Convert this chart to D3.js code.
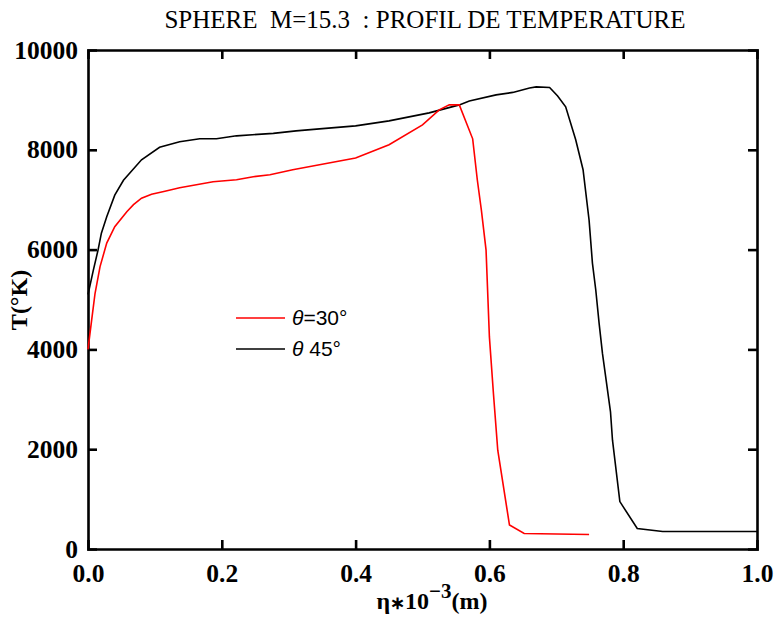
<!DOCTYPE html>
<html>
<head>
<meta charset="utf-8">
<script src="https://cdn.jsdelivr.net/npm/d3@7"></script>
<style>
  body { margin: 0; background: #fff; }
  svg { display: block; }
</style>
</head>
<body>
<div class="chart"></div>
<script>
// theta = 30 deg (red)
let eta30 = [0, 0.0055, 0.0105, 0.018, 0.028, 0.040, 0.058, 0.068, 0.080, 0.095, 0.115, 0.137, 0.187, 0.222, 0.247, 0.272, 0.306, 0.346, 0.40, 0.45, 0.50, 0.525, 0.54, 0.555, 0.575, 0.582, 0.588, 0.595, 0.60, 0.606, 0.6125, 0.63, 0.652, 0.749];
let temp30 = [4000, 4590, 5120, 5660, 6130, 6460, 6760, 6900, 7030, 7110, 7170, 7240, 7360, 7400, 7460, 7500, 7600, 7700, 7835, 8100, 8500, 8800, 8900, 8900, 8220, 7390, 6790, 5990, 4250, 3120, 1980, 480, 310, 290];

// theta = 45 deg (black)
let eta45 = [0, 0.008, 0.015, 0.020, 0.028, 0.040, 0.053, 0.080, 0.107, 0.137, 0.167, 0.192, 0.222, 0.277, 0.311, 0.346, 0.40, 0.45, 0.51, 0.555, 0.57, 0.61, 0.635, 0.66, 0.67, 0.69, 0.702, 0.714, 0.729, 0.740, 0.749, 0.754, 0.759, 0.764, 0.769, 0.781, 0.784, 0.795, 0.821, 0.859, 1.0];
let temp45 = [5100, 5590, 5990, 6330, 6660, 7090, 7390, 7800, 8050, 8160, 8220, 8220, 8280, 8330, 8380, 8420, 8480, 8580, 8740, 8900, 8980, 9100, 9150, 9240, 9260, 9250, 9080, 8860, 8200, 7600, 6590, 5730, 5190, 4520, 3920, 2750, 2180, 950, 410, 350, 350];

let xTicks = [0, 0.2, 0.4, 0.6, 0.8, 1.0];
let yTicks = [0, 2000, 4000, 6000, 8000, 10000];

let legendLabels = ["=30\u00B0", " 45\u00B0"];
let legendColors = ["#ff0000", "#000000"];

let W = 775, H = 617;
let mLeft = 88, mRight = 757, mTop = 50, mBottom = 549;

let svg = d3.select(".chart").append("svg")
    .attr("width", W)
    .attr("height", H);

let x = d3.scaleLinear().domain([0, 1]).range([mLeft, mRight]);
let y = d3.scaleLinear().domain([0, 10000]).range([mBottom, mTop]);

let serif = "'Liberation Serif', 'Times New Roman', serif";

// axes, ticks pointing inward
let gBottom = svg.append("g").attr("transform", "translate(0," + mBottom + ")")
    .call(d3.axisBottom(x).tickValues(xTicks).tickSize(-9).tickPadding(15)
        .tickFormat(d3.format(".1f")));
let gTop = svg.append("g").attr("transform", "translate(0," + mTop + ")")
    .call(d3.axisTop(x).tickValues(xTicks).tickSize(-9).tickFormat(""));
let gLeft = svg.append("g").attr("transform", "translate(" + mLeft + ",0)")
    .call(d3.axisLeft(y).tickValues(yTicks).tickSize(-9).tickPadding(10)
        .tickFormat(d3.format("d")));
let gRight = svg.append("g").attr("transform", "translate(" + mRight + ",0)")
    .call(d3.axisRight(y).tickValues(yTicks).tickSize(-9).tickFormat(""));

[gBottom, gTop, gLeft, gRight].forEach(function (g) {
    g.select(".domain").attr("stroke", "#000").attr("stroke-width", 2.6);
    g.selectAll(".tick line").attr("stroke", "#000").attr("stroke-width", 2.6);
    g.selectAll(".tick text")
        .attr("font-family", serif)
        .attr("font-weight", "bold")
        .attr("font-size", 25.5)
        .attr("fill", "#000");
});
// hide end ticks that sit on the frame
[gBottom, gTop].forEach(function (g) {
    g.selectAll(".tick line").filter(function (d) { return d === 0 || d === 1; }).remove();
});
[gLeft, gRight].forEach(function (g) {
    g.selectAll(".tick line").filter(function (d) { return d === 0 || d === 10000; }).remove();
});

let line = d3.line()
    .x(function (d) { return x(d[0]); })
    .y(function (d) { return y(d[1]); });

svg.append("path")
    .datum(eta45.map(function (e, i) { return [e, temp45[i]]; }))
    .attr("fill", "none")
    .attr("stroke", "#000")
    .attr("stroke-width", 1.6)
    .attr("d", line);

svg.append("path")
    .datum(eta30.map(function (e, i) { return [e, temp30[i]]; }))
    .attr("fill", "none")
    .attr("stroke", "#ff0000")
    .attr("stroke-width", 1.6)
    .attr("d", line);

// title
svg.append("text")
    .attr("x", 425)
    .attr("y", 28)
    .attr("text-anchor", "middle")
    .attr("font-family", serif)
    .attr("font-size", 25)
    .attr("xml:space", "preserve")
    .style("white-space", "pre")
    .text("SPHERE  M=15.3  : PROFIL DE TEMPERATURE");

// y axis title
svg.append("text")
    .attr("transform", "translate(27,300) rotate(-90)")
    .attr("text-anchor", "middle")
    .attr("font-family", serif)
    .attr("font-weight", "bold")
    .attr("font-size", 24)
    .text("T(\u00B0K)");

// x axis title
let xt = svg.append("text")
    .attr("x", 432)
    .attr("y", 609)
    .attr("text-anchor", "middle")
    .attr("font-family", serif)
    .attr("font-weight", "bold")
    .attr("font-size", 24);
xt.append("tspan").text("\u03B7");
xt.append("tspan").attr("font-size", 18).text("\u2217");
xt.append("tspan").text("10");
xt.append("tspan").attr("dy", -11).attr("font-size", 21).text("\u22123");
xt.append("tspan").attr("dy", 11).text("(m)");

// legend
let legend = svg.append("g");
legendLabels.forEach(function (lab, i) {
    let ly = 318 + i * 31;
    legend.append("line")
        .attr("x1", 236).attr("x2", 285)
        .attr("y1", ly).attr("y2", ly)
        .attr("stroke", legendColors[i])
        .attr("stroke-width", 1.6);
    let t = legend.append("text")
        .attr("x", 292)
        .attr("y", ly + 7)
        .attr("font-family", "'Liberation Sans', Arial, sans-serif")
        .attr("font-size", 21)
        .attr("fill", "#000");
    t.append("tspan").attr("font-style", "italic").text("\u03B8");
    t.append("tspan").attr("xml:space", "preserve").style("white-space", "pre").text(lab);
});
</script>
</body>
</html>
